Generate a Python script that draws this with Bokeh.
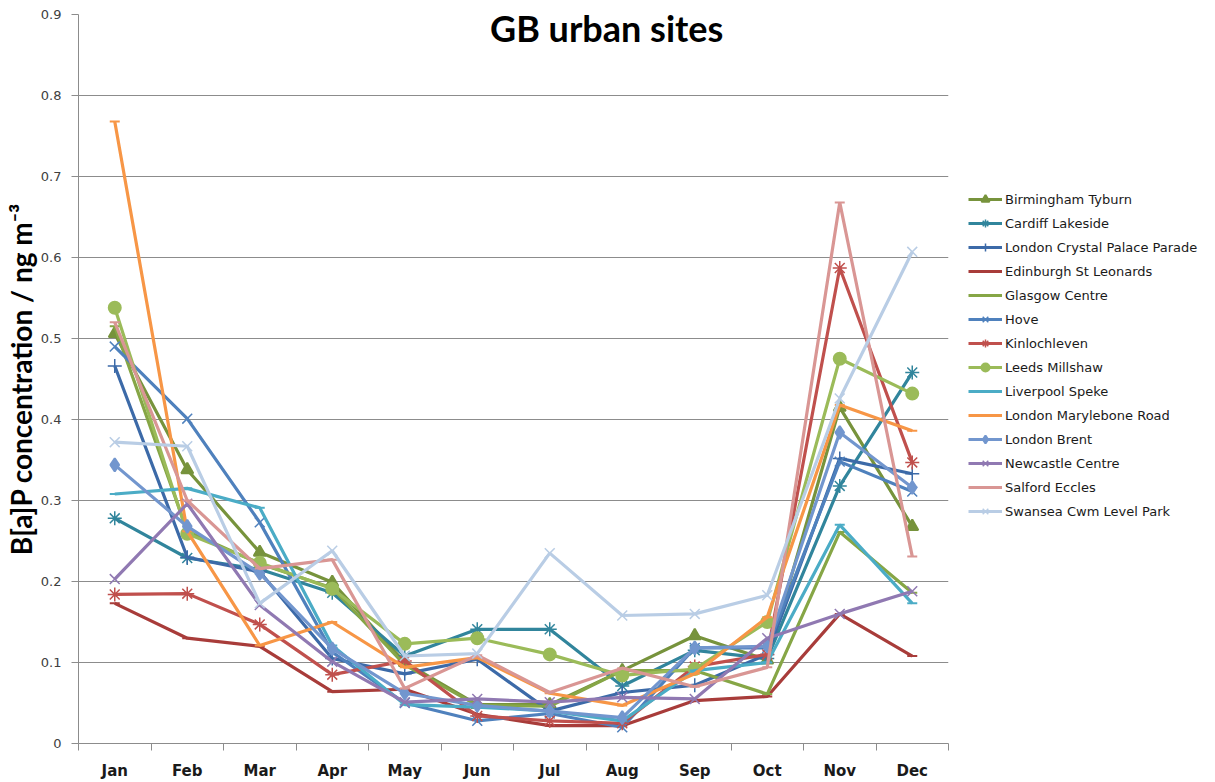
from bokeh.plotting import figure
from bokeh.layouts import row
from bokeh.models import Legend, LegendItem, FixedTicker, Label
from bokeh.embed import file_html
from bokeh.resources import INLINE

months = ["Jan", "Feb", "Mar", "Apr", "May", "Jun", "Jul", "Aug", "Sep", "Oct", "Nov", "Dec"]

birmingham_tyburn = [0.506, 0.338, 0.236, 0.199, 0.100, 0.048, 0.048, 0.090, 0.133, 0.103, 0.415, 0.268]
cardiff_lakeside = [0.278, 0.229, 0.215, 0.186, 0.108, 0.141, 0.141, 0.071, 0.115, 0.105, 0.318, 0.458]
crystal_palace = [0.466, 0.230, 0.212, 0.105, 0.086, 0.104, 0.040, 0.063, 0.072, 0.110, 0.352, 0.333]
edinburgh = [0.173, 0.130, 0.120, 0.064, 0.067, 0.036, 0.022, 0.022, 0.053, 0.058, 0.160, 0.108]
glasgow = [0.515, 0.262, 0.222, 0.192, 0.097, 0.047, 0.046, 0.090, 0.090, 0.061, 0.261, 0.186]
hove = [0.490, 0.401, 0.273, 0.113, 0.050, 0.028, 0.037, 0.020, 0.118, 0.118, 0.348, 0.311]
kinlochleven = [0.184, 0.185, 0.147, 0.085, 0.102, 0.034, 0.028, 0.025, 0.095, 0.110, 0.587, 0.347]
leeds = [0.538, 0.259, 0.223, 0.191, 0.123, 0.130, 0.110, 0.084, 0.092, 0.150, 0.475, 0.432]
liverpool = [0.308, 0.315, 0.291, 0.121, 0.048, 0.045, 0.040, 0.028, 0.090, 0.100, 0.270, 0.173]
marylebone = [0.768, 0.262, 0.121, 0.150, 0.094, 0.106, 0.062, 0.047, 0.086, 0.156, 0.418, 0.386]
brent = [0.344, 0.268, 0.210, 0.117, 0.062, 0.047, 0.040, 0.032, 0.118, 0.120, 0.384, 0.316]
newcastle = [0.203, 0.296, 0.171, 0.101, 0.051, 0.055, 0.051, 0.057, 0.055, 0.130, 0.160, 0.188]
salford = [0.520, 0.300, 0.216, 0.227, 0.068, 0.109, 0.063, 0.093, 0.070, 0.094, 0.668, 0.231]
swansea = [0.372, 0.367, 0.173, 0.238, 0.108, 0.111, 0.235, 0.158, 0.160, 0.183, 0.426, 0.607]

y_ticks = [0, 0.1, 0.2, 0.3, 0.4, 0.5, 0.6, 0.7, 0.8, 0.9]

# name, values, colour, marker, marker size, marker line width
series = [
    ("Birmingham Tyburn", birmingham_tyburn, "#77933C", "triangle", 12, 2),
    ("Cardiff Lakeside", cardiff_lakeside, "#31859C", "asterisk", 14, 1.5),
    ("London Crystal Palace Parade", crystal_palace, "#3C6AA8", "cross", 14, 1.5),
    ("Edinburgh St Leonards", edinburgh, "#A83C3A", "dash", 10, 2),
    ("Glasgow Centre", glasgow, "#86A646", "dash", 10, 2),
    ("Hove", hove, "#4F81BD", "x", 14, 1.5),
    ("Kinlochleven", kinlochleven, "#C0504D", "asterisk", 14, 1.5),
    ("Leeds Millshaw", leeds, "#9BBB59", "circle", 12, 2),
    ("Liverpool Speke", liverpool, "#4BACC6", "dash", 10, 2),
    ("London Marylebone Road", marylebone, "#F79646", "dash", 10, 2),
    ("London Brent", brent, "#7296CE", "diamond", 13, 2),
    ("Newcastle Centre", newcastle, "#9079B2", "x", 14, 1.5),
    ("Salford Eccles", salford, "#D99694", "dash", 10, 2),
    ("Swansea Cwm Level Park", swansea, "#B9CDE5", "x", 14, 1.5),
]

xs = list(range(1, len(months) + 1))

p = figure(width=960, height=782, x_range=(0.5, len(months) + 0.5), y_range=(0, 0.9),
           output_backend="svg", toolbar_location=None,
           min_border_left=75, min_border_right=12, min_border_top=14, min_border_bottom=39)
p.outline_line_color = None
p.background_fill_color = "white"
p.xgrid.visible = False
p.ygrid.grid_line_color = "#8C8C8C"
p.ygrid.grid_line_width = 1

p.yaxis.ticker = FixedTicker(ticks=y_ticks)
p.yaxis.major_label_overrides = {0: "0"}
p.yaxis.axis_line_color = "#8C8C8C"
p.yaxis.major_tick_line_color = "#8C8C8C"
p.yaxis.major_tick_out = 7
p.yaxis.major_tick_in = 0
p.yaxis.minor_tick_line_color = None
p.yaxis.major_label_standoff = 10
p.yaxis.major_label_text_font = "DejaVu Sans"
p.yaxis.major_label_text_font_size = "13px"
p.yaxis.major_label_text_color = "#404040"
p.yaxis.axis_label = "B[a]P concentration / ng m\u207b\u00b3"
p.yaxis.axis_label_text_font = "Lato"
p.yaxis.axis_label_text_font_style = "bold"
p.yaxis.axis_label_text_font_size = "28px"
p.yaxis.axis_label_text_color = "#000000"
p.yaxis.axis_label_standoff = 0

p.xaxis.ticker = FixedTicker(ticks=xs, minor_ticks=[x - 0.5 for x in xs] + [len(months) + 0.5])
p.xaxis.major_label_overrides = {x: m for x, m in zip(xs, months)}
p.xaxis.axis_line_color = "#8C8C8C"
p.xaxis.major_tick_line_color = None
p.xaxis.major_tick_out = 0
p.xaxis.major_tick_in = 0
p.xaxis.minor_tick_line_color = "#8C8C8C"
p.xaxis.minor_tick_out = 7
p.xaxis.minor_tick_in = 0
p.xaxis.major_label_standoff = 11
p.xaxis.major_label_text_font = "DejaVu Sans"
p.xaxis.major_label_text_font_style = "bold"
p.xaxis.major_label_text_font_size = "15px"
p.xaxis.major_label_text_color = "#1A1A1A"

# legend panel: a second figure whose (out-of-view) renderers only feed the legend
p2 = figure(width=253, height=782, x_range=(1000, 1001), y_range=(1000, 1001),
            x_axis_type=None, y_axis_type=None, output_backend="svg",
            toolbar_location=None, min_border=0)
p2.outline_line_color = None
p2.grid.visible = False

items = []
for name, vals, color, marker, size, mlw in series:
    p.line(xs, vals, line_color=color, line_width=3.2)
    p.scatter(xs, vals, marker=marker, size=size, line_color=color,
              fill_color=color, line_width=mlw)
    l2 = p2.line(xs, vals, line_color=color, line_width=3.2)
    m2 = p2.scatter(xs, vals, marker=marker, size=size, line_color=color,
                    fill_color=color, line_width=mlw)
    items.append(LegendItem(label=name, renderers=[l2, m2]))

legend = Legend(items=items, location=(8, 222), border_line_color=None,
                background_fill_alpha=0, padding=0, spacing=4, margin=0,
                label_height=20, glyph_height=20, glyph_width=34, label_standoff=3,
                label_text_font="DejaVu Sans", label_text_font_size="13px",
                label_text_color="#1A1A1A")
p2.add_layout(legend)

title = Label(x=7.785, y=0.883, text="GB urban sites", text_font="Lato",
              text_font_style="bold", text_font_size="36px", text_align="center",
              text_baseline="middle", text_color="#000000")
p.add_layout(title)

layout = row(p, p2)
open("out.html", "w").write(file_html(layout, INLINE))
